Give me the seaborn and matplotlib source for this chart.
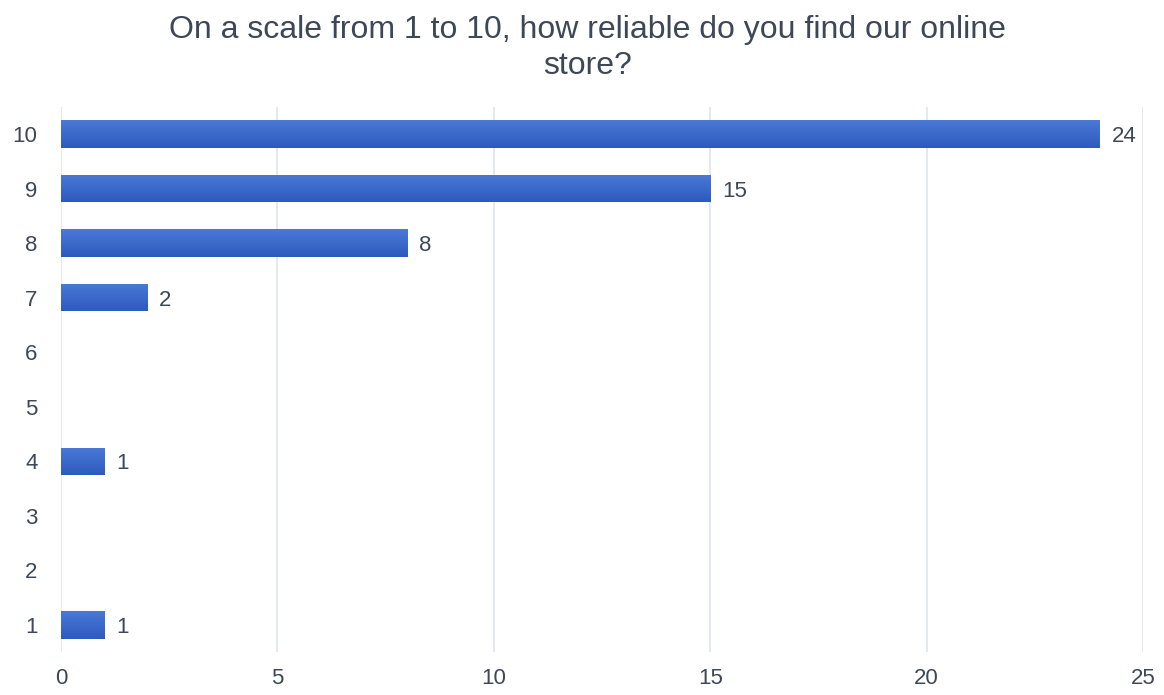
import matplotlib
matplotlib.use("Agg")
import matplotlib.pyplot as plt
from matplotlib.colors import LinearSegmentedColormap
import numpy as np
import pandas as pd
import seaborn as sns

# Survey answers (rating -> number of respondents)
ratings = ["10", "9", "8", "7", "6", "5", "4", "3", "2", "1"]
counts = [24, 15, 8, 2, 0, 0, 1, 0, 0, 1]
x_ticks = [0, 5, 10, 15, 20, 25]
title = "On a scale from 1 to 10, how reliable do you find our online\nstore?"

df = pd.DataFrame({"rating": ratings, "count": counts})

sns.set_theme(style="white")
plt.rcParams["font.family"] = ["Liberation Sans", "DejaVu Sans"]

text_color = "#3c4858"
grid_color = "#dfe4ec"

fig = plt.figure(figsize=(11.64, 6.95), dpi=100)
ax = fig.add_axes([0.0524, 0.0614, 0.9296, 0.7851])

for t in x_ticks:
    ax.axvline(t, color=grid_color, lw=1.2, zorder=0)

sns.barplot(data=df, x="count", y="rating", order=ratings, orient="h",
            color="#3563c4", width=0.5, ax=ax, saturation=1, linewidth=0,
            zorder=2)

# Vertical gradient on each bar
grad = LinearSegmentedColormap.from_list("bar", ["#4b79d8", "#2d5abd"])
for p in ax.patches:
    w = p.get_width()
    if w <= 0:
        p.set_visible(False)
        continue
    x0, y0 = p.get_x(), p.get_y()
    h = p.get_height()
    img = np.linspace(0, 1, 64).reshape(-1, 1)
    im = ax.imshow(img, cmap=grad, aspect="auto",
                   extent=(x0, x0 + w, y0 + h, y0), zorder=3,
                   interpolation="bicubic")
    im.set_clip_path(p)

# Value labels
for i, v in enumerate(counts):
    if v > 0:
        ax.text(v + 0.27, i, str(v), va="center_baseline", ha="left",
                fontsize=16, color=text_color)

ax.set_xlim(0, 25)
ax.set_ylim(len(ratings) - 0.5, -0.5)
ax.set_xticks(x_ticks)
ax.set_xticklabels([str(t) for t in x_ticks])
ax.tick_params(axis="both", length=0, labelsize=16, colors=text_color)
ax.tick_params(axis="x", pad=11)
ax.tick_params(axis="y", pad=17)
for lab in ax.get_yticklabels():
    lab.set_verticalalignment("center_baseline")
    lab.set_horizontalalignment("right")
ax.set_xlabel("")
ax.set_ylabel("")
for s in ax.spines.values():
    s.set_visible(False)

fig.text(0.505, 0.978, title, ha="center", va="top", fontsize=23,
         color=text_color, linespacing=1.25)

fig.savefig("out.png", dpi=100, facecolor="white")
